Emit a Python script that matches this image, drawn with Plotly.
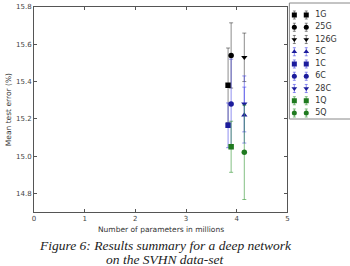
import plotly.graph_objects as go

# ---- data ----
series = ["1G", "25G", "126G", "5C", "1C", "6C", "28C", "1Q", "5Q"]
params_m = [3.83, 3.89, 4.15, 4.15, 3.83, 3.89, 4.15, 3.89, 4.15]
mean_err = [15.38, 15.54, 15.53, 15.22, 15.165, 15.28, 15.28, 15.05, 15.02]
std_err = [0.20, 0.175, 0.13, 0.15, 0.12, 0.24, 0.15, 0.137, 0.253]
groups = ["G", "G", "G", "C", "C", "C", "C", "Q", "Q"]
symbols = ["square", "circle", "triangle-down", "triangle-up", "square",
           "circle", "triangle-down", "square", "circle"]
x_ticks = [0, 1, 2, 3, 4, 5]
y_ticks = [14.8, 15.0, 15.2, 15.4, 15.6, 15.8]

marker_col = {"G": "#000000", "C": "#1c1c9c", "Q": "#1f7a1f"}
bar_col = {"G": "rgba(0,0,0,0.45)", "C": "rgba(70,70,230,0.6)", "Q": "rgba(50,150,50,0.6)"}

W, H = 350, 266
ML, MR, MT, MB = 34, 0, 7, 54
PW = W - ML - MR
PH = H - MT - MB
plot_right = 289
main_dom = (plot_right - ML) / PW

fig = go.Figure()
for i, name in enumerate(series):
    g = groups[i]
    fig.add_trace(go.Scatter(
        x=[params_m[i]], y=[mean_err[i]], mode="markers", name=name,
        marker=dict(symbol=symbols[i], size=5.5, color=marker_col[g]),
        error_y=dict(type="data", array=[std_err[i]], visible=True,
                     color=bar_col[g], thickness=1, width=2),
        showlegend=False, xaxis="x", yaxis="y"))

# ---- legend drawn as a small axes at the right ----
leg_left, leg_top, leg_bottom = 291, 3, 119
first_y, step_y = 15, 12.25
dom_y0 = (MT + PH - leg_bottom) / PH
top_px = MT
bot_px = leg_bottom
r_top = (top_px - first_y) / step_y
r_bot = (bot_px - first_y) / step_y
leg_x0 = (leg_left - ML) / PW

for i, name in enumerate(series):
    g = groups[i]
    fig.add_trace(go.Scatter(
        x=[5, 17], y=[i, i], mode="markers",
        marker=dict(symbol=symbols[i], size=5, color=marker_col[g]),
        error_y=dict(type="constant", value=0.33, visible=True,
                     color=bar_col[g], thickness=1, width=1.5),
        showlegend=False, xaxis="x2", yaxis="y2", hoverinfo="skip"))
fig.add_trace(go.Scatter(
    x=[26] * len(series), y=list(range(len(series))), mode="text",
    text=series, textposition="middle right",
    textfont=dict(family="DejaVu Sans", size=8, color="#333"),
    showlegend=False, xaxis="x2", yaxis="y2", hoverinfo="skip"))

axis_common = dict(showgrid=False, zeroline=False, showline=True, linecolor="#555",
                   linewidth=1, mirror="allticks", ticks="inside", ticklen=3,
                   tickcolor="#555", tickfont=dict(family="DejaVu Sans", size=7, color="#444"))

fig.update_layout(
    width=W, height=H, margin=dict(l=ML, r=MR, t=MT, b=MB),
    paper_bgcolor="white", plot_bgcolor="white",
    xaxis=dict(domain=[0, main_dom], range=[0, 5], tickvals=x_ticks, **axis_common),
    yaxis=dict(domain=[0, 1], range=[14.7, 15.8], tickvals=y_ticks, tickformat=".1f",
               **axis_common),
    xaxis2=dict(domain=[leg_x0, 1], range=[0, W - leg_left], visible=False, anchor="y2"),
    yaxis2=dict(domain=[dom_y0, 1], range=[r_bot, r_top], visible=False, anchor="x2"),
    shapes=[dict(type="rect", xref="paper", yref="paper",
                 x0=leg_x0, x1=1.05, y0=dom_y0, y1=(MT + PH - leg_top) / PH,
                 line=dict(color="#888", width=1), fillcolor="rgba(0,0,0,0)")],
    annotations=[
        dict(text="Number of parameters in millions", xref="paper", yref="paper",
             x=(162 - ML) / PW, y=-(229 - MT - PH) / PH, showarrow=False,
             xanchor="center", yanchor="middle",
             font=dict(family="DejaVu Sans", size=7.5, color="#333")),
        dict(text="Mean test error (%)", xref="paper", yref="paper",
             x=-(ML - 8) / PW, y=(MT + PH - 110) / PH, showarrow=False, textangle=-90,
             xanchor="center", yanchor="middle",
             font=dict(family="DejaVu Sans", size=7.5, color="#333")),
        dict(text="<i>Figure 6: Results summary for a deep network</i>", xref="paper",
             yref="paper", x=(166 - ML) / PW, y=-(246 - MT - PH) / PH, showarrow=False,
             xanchor="center", yanchor="middle",
             font=dict(family="Liberation Serif", size=13.5, color="#222")),
        dict(text="<i>on the SVHN data-set</i>", xref="paper",
             yref="paper", x=(166 - ML) / PW, y=-(259.5 - MT - PH) / PH, showarrow=False,
             xanchor="center", yanchor="middle",
             font=dict(family="Liberation Serif", size=13.5, color="#222")),
    ],
)

fig.write_html("out.html")
